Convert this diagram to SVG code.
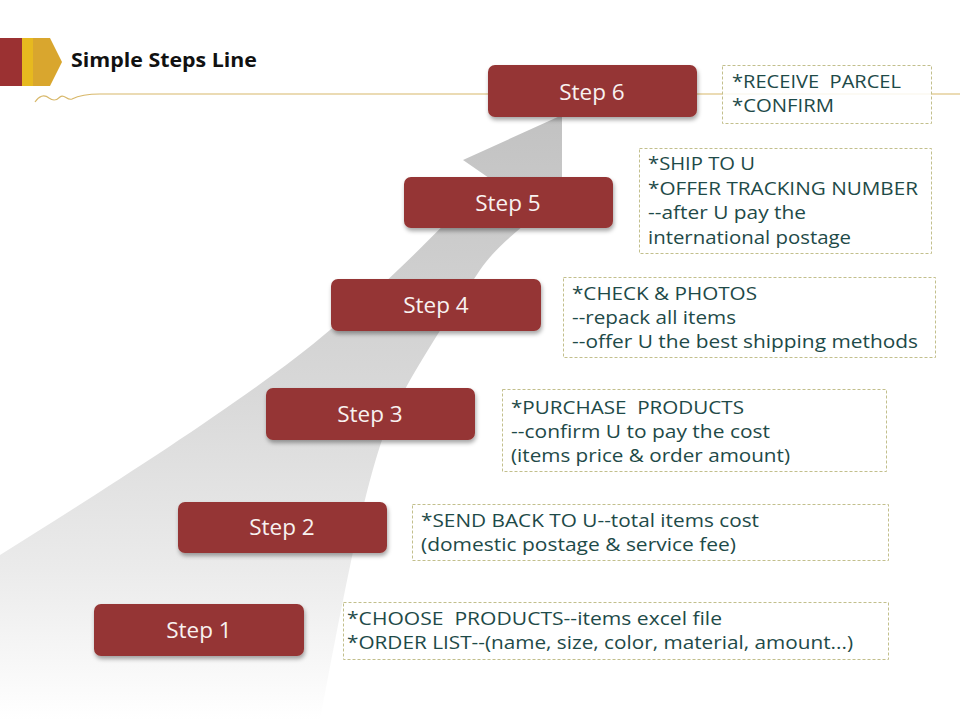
<svg xmlns="http://www.w3.org/2000/svg" width="960" height="720" viewBox="0 0 960 720">
<defs>
<linearGradient id="arrowGrad" x1="0" y1="118" x2="0" y2="720" gradientUnits="userSpaceOnUse">
<stop offset="0" stop-color="#c2c2c2"/>
<stop offset="0.45" stop-color="#d8d8d8"/>
<stop offset="0.75" stop-color="#ebebeb"/>
<stop offset="1" stop-color="#ffffff"/>
</linearGradient>
<filter id="shadow" x="-10%" y="-20%" width="125%" height="160%">
<feDropShadow dx="1" dy="3" stdDeviation="2" flood-color="#000" flood-opacity="0.35"/>
</filter>
<style>
.step rect{fill:#953634;filter:url(#shadow)}
.step text{font-family:"Open Sans","Liberation Sans",sans-serif;font-size:22.5px;fill:#f8f1f0;text-anchor:middle}
.note rect{fill:#ffffff;fill-opacity:0.85;stroke:#c2bf8c;stroke-width:1;stroke-dasharray:3 2}
.note text{font-family:"Open Sans","Liberation Sans",sans-serif;font-size:18.5px;fill:#1e4a48;white-space:pre}
</style>
</defs>
<rect width="960" height="720" fill="#ffffff"/>

<g id="header">
<rect x="0" y="38" width="22" height="48" fill="#9b3132"/>
<rect x="22" y="38" width="11" height="48" fill="#e7b91f"/>
<polygon points="33,38 50,38 62,62 50,86 33,86" fill="#d9a62e"/>
<text x="71" y="67" font-family="'Open Sans','Liberation Sans',sans-serif" font-weight="bold" font-size="19.5" fill="#111" textLength="186" lengthAdjust="spacingAndGlyphs">Simple Steps Line</text>
<path d="M35,102 C39,96 44,94 49,98 C53,101 56,101 60,97 C64,93 67,101 72,99 C78,96 84,94 100,94 L960,94" fill="none" stroke="#d8b86a" stroke-width="1.2"/>
</g>

<g id="connectors">
<path d="M560,116 L562,116 L562,192 C540,215 500,240 480,270 C440,330 400,390 383,437 C365,490 350,560 320,720 L0,720 L0,555 C120,480 260,390 330,330 C380,290 430,240 489,178 L463,160 Z" fill="url(#arrowGrad)"/>
</g>

<g id="step6" class="step"><rect x="488" y="65" width="209" height="52" rx="7"/><text x="592" y="100">Step 6</text></g>
<g id="step5" class="step"><rect x="404" y="177" width="209" height="51" rx="7"/><text x="508" y="211">Step 5</text></g>
<g id="step4" class="step"><rect x="331" y="279" width="210" height="52" rx="7"/><text x="436" y="313">Step 4</text></g>
<g id="step3" class="step"><rect x="266" y="388" width="209" height="52" rx="7"/><text x="370" y="422">Step 3</text></g>
<g id="step2" class="step"><rect x="178" y="502" width="209" height="51" rx="7"/><text x="282" y="535">Step 2</text></g>
<g id="step1" class="step"><rect x="94" y="604" width="210" height="52" rx="7"/><text x="199" y="638">Step 1</text></g>

<g id="note6" class="note"><rect x="722.5" y="65.5" width="209" height="58"/>
<text x="732" y="88" xml:space="preserve" textLength="169" lengthAdjust="spacingAndGlyphs">*RECEIVE  PARCEL</text>
<text x="732" y="112" textLength="102" lengthAdjust="spacingAndGlyphs">*CONFIRM</text></g>

<g id="note5" class="note"><rect x="639.5" y="148.5" width="292" height="105"/>
<text x="648" y="170" textLength="107" lengthAdjust="spacingAndGlyphs">*SHIP TO U</text>
<text x="648" y="195" textLength="270" lengthAdjust="spacingAndGlyphs">*OFFER TRACKING NUMBER</text>
<text x="648" y="219" textLength="158" lengthAdjust="spacingAndGlyphs">--after U pay the</text>
<text x="648" y="244" textLength="203" lengthAdjust="spacingAndGlyphs">international postage</text></g>

<g id="note4" class="note"><rect x="563.5" y="277.5" width="372" height="80"/>
<text x="572" y="300" textLength="185" lengthAdjust="spacingAndGlyphs">*CHECK &amp; PHOTOS</text>
<text x="572" y="324" textLength="164" lengthAdjust="spacingAndGlyphs">--repack all items</text>
<text x="572" y="348" textLength="346" lengthAdjust="spacingAndGlyphs">--offer U the best shipping methods</text></g>

<g id="note3" class="note"><rect x="502.5" y="389.5" width="384" height="82"/>
<text x="511" y="414" xml:space="preserve" textLength="233" lengthAdjust="spacingAndGlyphs">*PURCHASE  PRODUCTS</text>
<text x="511" y="438" textLength="259" lengthAdjust="spacingAndGlyphs">--confirm U to pay the cost</text>
<text x="511" y="462" textLength="279" lengthAdjust="spacingAndGlyphs">(items price &amp; order amount)</text></g>

<g id="note2" class="note"><rect x="412.5" y="504.5" width="476" height="56"/>
<text x="421" y="527" textLength="338" lengthAdjust="spacingAndGlyphs">*SEND BACK TO U--total items cost</text>
<text x="421" y="551" textLength="315" lengthAdjust="spacingAndGlyphs">(domestic postage &amp; service fee)</text></g>

<g id="note1" class="note"><rect x="343.5" y="602.5" width="545" height="57"/>
<text x="347" y="625" xml:space="preserve" textLength="375" lengthAdjust="spacingAndGlyphs">*CHOOSE  PRODUCTS--items excel file</text>
<text x="347" y="649" textLength="506" lengthAdjust="spacingAndGlyphs">*ORDER LIST--(name, size, color, material, amount...)</text></g>
</svg>
